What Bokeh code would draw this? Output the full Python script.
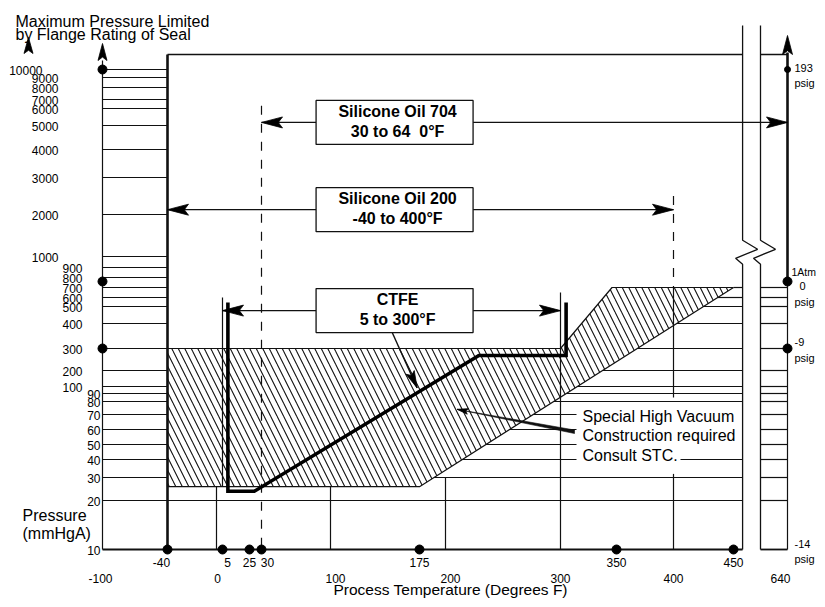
import numpy as np
from bokeh.plotting import figure
from bokeh.models import Range1d
from bokeh.core.properties import value
from bokeh.embed import file_html
from bokeh.resources import INLINE

# ---------------- data ----------------
pressure_grid = [10000, 9000, 8000, 7000, 6000, 5000, 4000, 3000, 2000,
                 1000, 900, 800, 700, 600, 500, 400, 300, 200,
                 100, 90, 80, 70, 60, 50, 40, 30, 20, 10]
temp_ticks_upper = [-40, 5, 25, 30, 175, 350, 450]
temp_ticks_lower = [-100, 0, 100, 200, 300, 400, 640]
left_dot_press = [10000, 760, 300]
right_dot_press = [10000, 760, 300, 10]
right_dot_labels = [["193", "psig"], ["1Atm", "0", "psig"], ["-9", "psig"], ["-14", "psig"]]

fluid_names = ["Silicone Oil 704", "Silicone Oil 200", "CTFE"]
fluid_spans = ["30 to 64\u00a0\u00a00°F", "-40 to 400°F", "5 to 300°F"]
fluid_tmin = [30, -40, 5]
fluid_tmax = [640, 400, 300]
fluid_press = [5180, 2130, 476]

vacuum_temp = [-40, 300, 346, 450, 175, -40]
vacuum_press = [300, 300, 700, 700, 26, 26]

ctfe_temp = [9, 9, 27, 229, 305, 305]
ctfe_press = [545, 24, 24, 268, 268, 545]

vacuum_note = ["Special High Vacuum", "Construction required", "Consult STC."]

# the drawing's own non-uniform scales
temp_scale = [-100, -40, 0, 5, 25, 30, 100, 175, 200, 300, 350, 400, 450, 640]
temp_scale_pos = [102, 167, 216, 222, 249, 261, 330, 419, 445, 560, 616, 673, 733, 787]
press_scale = [10, 20, 30, 40, 50, 60, 70, 80, 90, 100, 200, 300, 400, 500, 600, 700,
               800, 900, 1000, 2000, 3000, 4000, 5000, 6000, 7000, 8000, 9000, 10000]
press_scale_pos = [549, 500, 477, 459, 444, 429, 414, 401, 393, 386, 370, 348, 323, 306,
                   297, 287, 277, 267, 256, 214, 177, 149, 125, 108, 99, 87, 77, 69]
break_temps = [482, 545]


def tx(t):
    return np.interp(np.asarray(t, dtype=float), temp_scale, temp_scale_pos)


def py(pr):
    return np.interp(np.asarray(pr, dtype=float), press_scale, press_scale_pos)


W, H = 817, 599
p = figure(width=W, height=H, x_range=Range1d(0, W), y_range=Range1d(H, 0),
           output_backend="svg", toolbar_location=None, min_border=0)
p.axis.visible = False
p.grid.visible = False
p.outline_line_color = None

FONT = value("Liberation Sans")
INK = "#111111"

X_AX = float(tx(-100))
X_L = float(tx(-40))
X_R = float(tx(640))
BRK_L, BRK_R = [float(v) for v in tx(break_temps)]
Y_BOT = float(py(10))
Y_TOP = 54.0

# note placement
NOTE_X = 582.0
NOTE_Y = [416.0, 435.0, 455.0]
NOTE_END = 680.0

# lower diagonal of the hatched area (pixel space)
Ax, Ay = float(tx(175)), float(py(26))
Bx, By = float(tx(450)), float(py(700))


def xdiag(y):
    return Ax + (y - Ay) * (Bx - Ax) / (By - Ay)


thin = dict(x0=[], y0=[], x1=[], y1=[])
thick = dict(x0=[], y0=[], x1=[], y1=[])
dashed = dict(x0=[], y0=[], x1=[], y1=[])


def add(d, x0, y0, x1, y1):
    d["x0"].append(float(x0)); d["y0"].append(float(y0))
    d["x1"].append(float(x1)); d["y1"].append(float(y1))


# hatched "special high vacuum" region (drawn first)
p.patch(tx(vacuum_temp), py(vacuum_press), fill_color="white", line_color=INK, line_width=1.2,
        hatch_pattern="\\", hatch_scale=13, hatch_weight=1.1, hatch_color=INK)

# horizontal grid lines
for pr in pressure_grid:
    y = float(py(pr))
    if pr >= 30:
        add(thin, X_AX, y, X_L, y)
    if pr == 10:
        continue
    if pr <= 20:
        add(thin, X_AX, y, BRK_L, y)
        add(thin, BRK_R, y, X_R, y)
    elif pr <= 700:
        xs = xdiag(y)
        if NOTE_Y[0] - 6 <= y <= NOTE_Y[-1] + 7:
            add(thin, xs, y, NOTE_X - 6, y)
            if abs(y - NOTE_Y[-1]) < 7:
                add(thin, NOTE_END, y, BRK_L, y)
        else:
            add(thin, xs, y, BRK_L, y)
        add(thin, BRK_R, y, X_R, y)

# vertical lines
add(thin, X_AX, 60, X_AX, Y_BOT)
add(thin, tx(0), py(26), tx(0), Y_BOT)
add(thin, tx(5), py(600), tx(5), py(26))
add(thin, tx(100), py(26), tx(100), Y_BOT)
add(thin, tx(200), py(30), tx(200), Y_BOT)
add(thin, tx(300), py(650), tx(300), Y_BOT)
add(thin, tx(400), py(700), tx(400), py(85))
add(thin, tx(400), py(32), tx(400), Y_BOT)
add(thin, X_R, py(760), X_R, Y_BOT)
add(dashed, tx(30), py(6300), tx(30), Y_BOT)
add(dashed, tx(400), py(2500), tx(400), py(700))
add(thick, X_L, Y_TOP, X_L, Y_BOT)
add(thick, X_R, 52, X_R, py(760))

p.segment(x0="x0", y0="y0", x1="x1", y1="y1", source=thin, line_color=INK, line_width=1.2)
p.segment(x0="x0", y0="y0", x1="x1", y1="y1", source=dashed, line_color=INK, line_width=1.2,
          line_dash="9 9")
p.segment(x0="x0", y0="y0", x1="x1", y1="y1", source=thick, line_color=INK, line_width=2.6)

# frame top and bottom
p.segment(x0=[X_L, BRK_R], y0=[Y_TOP, Y_TOP], x1=[BRK_L, X_R], y1=[Y_TOP, Y_TOP],
          line_color=INK, line_width=1.6)
p.segment(x0=[X_AX, BRK_R], y0=[Y_BOT, Y_BOT], x1=[BRK_L, X_R], y1=[Y_BOT, Y_BOT],
          line_color=INK, line_width=1.8)

# axis break (zig-zag)
yc = float(py(1100))
zz_dx = [0, 0, 15, -7, 0, 0]
zz_dy = [-400, -12, -3, 6, 12, 400]
zx, zy = [], []
for xb in (BRK_L, BRK_R):
    zx.append([xb + d for d in zz_dx])
    zy.append([min(max(yc + d, 25), Y_BOT) for d in zz_dy])
p.multi_line(zx, zy, line_color=INK, line_width=1.3)

# CTFE operating envelope
p.line(tx(ctfe_temp), py(ctfe_press), line_color="black", line_width=3.6, line_join="miter")

# arrow heads
heads_x, heads_y = [], []


def head(tipx, tipy, dx, dy, length, hw):
    n = (dx * dx + dy * dy) ** 0.5
    ux, uy = dx / n, dy / n
    bx, by = tipx - ux * length, tipy - uy * length
    heads_x.append([tipx, bx - uy * hw, bx + ux * 0.2 * length, bx + uy * hw])
    heads_y.append([tipy, by + ux * hw, by + uy * 0.2 * length, by - ux * hw])


head(28, 37, 0, -1, 16, 4.5)
head(X_AX, 43, 0, -1, 17, 4.5)
head(X_R, 35, 0, -1, 19, 5)

BOX_X = float(tx(154))
BOX_W, BOX_H = 157, 44
for nm, sp, t0, t1, pr in zip(fluid_names, fluid_spans, fluid_tmin, fluid_tmax, fluid_press):
    y = float(py(pr))
    x0, x1 = float(tx(t0)), float(tx(t1))
    p.segment(x0=[x0, BOX_X + BOX_W / 2], y0=[y, y], x1=[BOX_X - BOX_W / 2, x1], y1=[y, y],
              line_color=INK, line_width=1.3)
    head(x0, y, -1, 0, 21, 5.5)
    head(x1, y, 1, 0, 21, 5.5)
    p.rect(x=[BOX_X], y=[y], width=BOX_W, height=BOX_H, fill_color="white",
           line_color=INK, line_width=1.3)
    p.text(x=[BOX_X + 3, BOX_X + 3], y=[y - 11, y + 9], text=[nm, sp], text_font=FONT,
           text_font_size="16px", text_font_style="bold", text_align="center",
           text_baseline="middle", text_color="black")

# CTFE leader arrow
cy = float(py(476)) + BOX_H / 2
lx0, ly0 = float(tx(152)), cy
lx1, ly1 = float(tx(173)), float(py(98))
p.segment(x0=[lx0], y0=[ly0], x1=[lx1], y1=[ly1], line_color=INK, line_width=1.4)
head(lx1, ly1, lx1 - lx0, ly1 - ly0, 17, 4.5)

# vacuum note leader (thin wedge)
vx0, vy0 = NOTE_X - 8, NOTE_Y[1] - 3
vx1, vy1 = float(tx(210)), float(py(74))
p.patch([vx1, vx0, vx0], [vy1, vy0 - 2.5, vy0 + 1], fill_color=INK, line_color=INK,
        line_width=0.6)
head(vx1, vy1, vx1 - vx0, vy1 - vy0, 11, 2.8)

p.patches(heads_x, heads_y, fill_color="black", line_color="black", line_width=0.8)

# dots
p.scatter(tx(temp_ticks_upper), [Y_BOT] * len(temp_ticks_upper), size=9, color="black")
p.scatter([X_AX] * len(left_dot_press), py(left_dot_press), size=9, color="black")
p.scatter([X_R] * 3, py(right_dot_press[:3]), size=[6, 9, 9], color="black")

# left pressure labels
lab_x, lab_y, lab_t = [], [], []
for pr in pressure_grid:
    if pr == 10000:
        xr = 42
    elif pr >= 1000:
        xr = 58
    elif pr >= 100:
        xr = 82
    else:
        xr = 100
    lab_x.append(xr); lab_y.append(float(py(pr)) + 1); lab_t.append(str(pr))
p.text(x=lab_x, y=lab_y, text=lab_t, text_font=FONT, text_font_size="12px",
       text_align="right", text_baseline="middle", text_color="black")

# bottom temperature labels
up_off = {-40: -6, 5: 5, 30: 6}
p.text(x=[float(tx(t)) + up_off.get(t, 0) for t in temp_ticks_upper],
       y=[Y_BOT + 13] * len(temp_ticks_upper), text=[str(t) for t in temp_ticks_upper],
       text_font=FONT, text_font_size="12px", text_align="center", text_baseline="middle",
       text_color="black")
lo_off = {-100: -2, 100: 5, 200: 5, 0: 1, 640: -7}
p.text(x=[float(tx(t)) + lo_off.get(t, 0) for t in temp_ticks_lower],
       y=[Y_BOT + 29] * len(temp_ticks_lower), text=[str(t) for t in temp_ticks_lower],
       text_font=FONT, text_font_size="12px", text_align="center", text_baseline="middle",
       text_color="black")

# right psig labels
rel = [[-2, 13], [-10, 4, 20], [-7, 9], [-6, 9]]
rx, ry, rt, rs = [], [], [], []
for pr, labs, offs in zip(right_dot_press, right_dot_labels, rel):
    for lb, o in zip(labs, offs):
        dx = {"0": 12, "1Atm": 4}.get(lb, 7)
        rx.append(X_R + dx); ry.append(float(py(pr)) + o); rt.append(lb)
        rs.append("10.5px" if lb == "1Atm" else "11px")
p.text(x=rx, y=ry, text=rt, text_font=FONT, text_font_size=rs, text_align="left",
       text_baseline="middle", text_color="black")

# titles
p.text(x=[15, 15], y=[21, 34], text=["Maximum Pressure Limited", "by Flange Rating of Seal"],
       text_font=FONT, text_font_size="16px", text_baseline="alphabetic", text_color="black")
p.text(x=[22, 22], y=[515, 533], text=["Pressure", "(mmHgA)"], text_font=FONT,
       text_font_size="16px", text_baseline="alphabetic", text_color="black")
p.text(x=[333], y=[589], text=["Process Temperature (Degrees F)"], text_font=FONT,
       text_font_size="15.5px", text_baseline="alphabetic", text_color="black")
p.text(x=[NOTE_X] * 3, y=NOTE_Y, text=vacuum_note, text_font=FONT, text_font_size="16px",
       text_baseline="middle", text_color="black")

open("out.html", "w").write(file_html(p, INLINE))
